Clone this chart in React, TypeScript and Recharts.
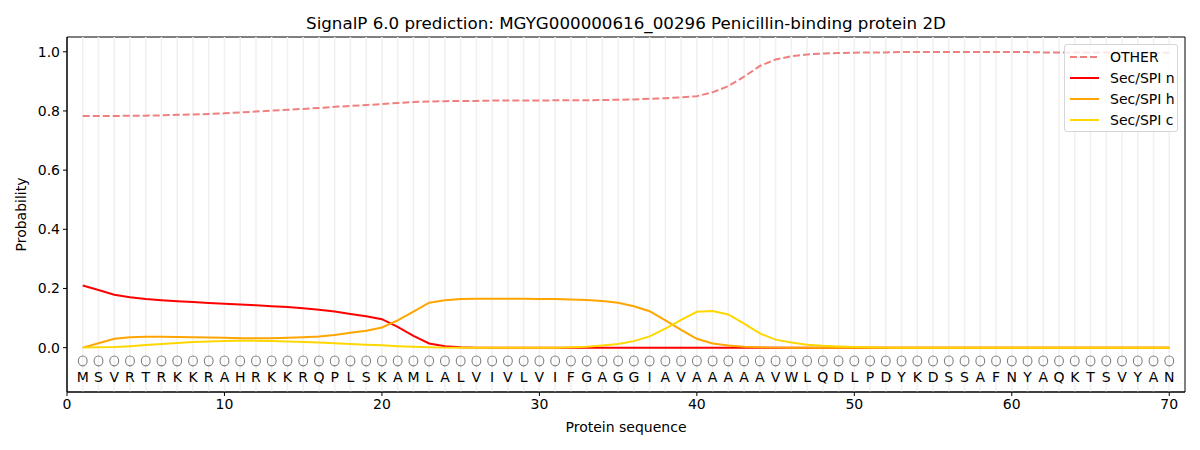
import React from "react";
import {
  ComposedChart,
  Line,
  Scatter,
  XAxis,
  YAxis,
  ReferenceLine,
  ReferenceArea,
} from "recharts";

const sequence = "MSVRTRKKRAHRKKRQPLSKAMLALVIVLVIFGAGGIAVAAAAAVWLQDLPDYKDSSAFNYAQKTSVYAN".split("");
const positions = sequence.map((_, i) => i + 1);

const otherProb = [
  0.783, 0.783, 0.783, 0.784, 0.784, 0.785, 0.787, 0.788, 0.79, 0.792,
  0.795, 0.798, 0.801, 0.804, 0.807, 0.81, 0.814, 0.817, 0.82, 0.823,
  0.827, 0.83, 0.832, 0.833, 0.834, 0.834, 0.835, 0.835, 0.835, 0.835,
  0.836, 0.836, 0.836, 0.837, 0.838, 0.839, 0.841, 0.843, 0.846, 0.85,
  0.863, 0.884, 0.916, 0.952, 0.974, 0.985, 0.991, 0.994, 0.996, 0.997,
  0.998, 0.998, 0.999, 0.999, 0.999, 0.999, 0.999, 0.999, 0.999, 0.999,
  0.999, 0.998, 0.998, 0.998, 0.998, 0.998, 0.997, 0.997, 0.997, 0.997,
];
const secN = [
  0.21, 0.195, 0.179, 0.17, 0.164, 0.16, 0.157, 0.154, 0.151, 0.148,
  0.146, 0.143, 0.14, 0.137, 0.133, 0.128, 0.122, 0.114, 0.106, 0.096,
  0.07, 0.04, 0.014, 0.005, 0.001, 0, 0, 0, 0, 0,
  0, 0, 0, 0, 0, 0, 0, 0, 0, 0,
  0, 0, 0, 0, 0, 0, 0, 0, 0, 0,
  0, 0, 0, 0, 0, 0, 0, 0, 0, 0,
  0, 0, 0, 0, 0, 0, 0, 0, 0, 0,
];
const secH = [
  0, 0.015, 0.03, 0.035, 0.037, 0.037, 0.036, 0.035, 0.034, 0.033,
  0.032, 0.032, 0.032, 0.033, 0.035, 0.038, 0.043, 0.05, 0.057, 0.068,
  0.092, 0.122, 0.152, 0.16, 0.164, 0.165, 0.165, 0.165, 0.165, 0.164,
  0.164, 0.163, 0.161, 0.158, 0.152, 0.14, 0.123, 0.092, 0.06, 0.03,
  0.014, 0.007, 0.003, 0.001, 0, 0, 0, 0, 0, 0,
  0, 0, 0, 0, 0, 0, 0, 0, 0, 0,
  0, 0, 0, 0, 0, 0, 0, 0, 0, 0,
];
const secC = [
  0, 0.001, 0.002, 0.005, 0.009, 0.012, 0.016, 0.019, 0.021, 0.022,
  0.023, 0.023, 0.022, 0.021, 0.019, 0.017, 0.015, 0.012, 0.01, 0.008,
  0.005, 0.003, 0.001, 0, 0, 0, 0, 0, 0, 0,
  0, 0.001, 0.003, 0.007, 0.012, 0.022, 0.038, 0.064, 0.094, 0.121,
  0.124, 0.112, 0.081, 0.048, 0.027, 0.017, 0.01, 0.006, 0.004, 0.002,
  0.001, 0, 0, 0, 0, 0, 0, 0, 0, 0,
  0, 0, 0, 0, 0, 0, 0, 0, 0, 0,
];

const xTicks = [0, 10, 20, 30, 40, 50, 60, 70];
const yTicks = [0, 0.2, 0.4, 0.6, 0.8, 1.0];
const circleLevel = -0.045;
const letterLevel = -0.1;

const series = [
  { key: "other", name: "OTHER", color: "#F08080", dash: "7 3" },
  { key: "n", name: "Sec/SPI n", color: "#FF0000", dash: undefined },
  { key: "h", name: "Sec/SPI h", color: "#FFA500", dash: undefined },
  { key: "c", name: "Sec/SPI c", color: "#FFD700", dash: undefined },
];

const data = positions.map((p, i) => ({
  x: p,
  aa: sequence[i],
  other: otherProb[i],
  n: secN[i],
  h: secH[i],
  c: secC[i],
  circleY: circleLevel,
  letterY: letterLevel,
}));

const FONT = "'DejaVu Sans', sans-serif";

const LetterShape = (props: any) => {
  const { cx, cy, payload } = props;
  return (
    <text
      x={cx}
      y={cy}
      textAnchor="middle"
      dominantBaseline="central"
      fontSize={14}
      fontFamily={FONT}
      fill="#000"
    >
      {payload.aa}
    </text>
  );
};

const CircleShape = (props: any) => {
  const { cx, cy } = props;
  return <ellipse cx={cx} cy={cy} rx={4.4} ry={4.9} fill="none" stroke="#808080" strokeWidth={1.1} />;
};

const LegendBox = () => (
  <div
    style={{
      position: "absolute",
      left: 1064,
      top: 44,
      width: 114,
      height: 88,
      border: "1px solid #d6d6d6",
      borderRadius: 3,
      background: "rgba(255,255,255,0.8)",
      fontFamily: FONT,
      fontSize: 14,
      boxSizing: "border-box",
      paddingTop: 1,
    }}
  >
    {series.map((s) => (
      <div key={s.key} style={{ height: 21, display: "flex", alignItems: "center" }}>
        <svg width={45} height={10} style={{ flex: "none" }}>
          <line
            x1={5}
            x2={34}
            y1={5}
            y2={5}
            stroke={s.color}
            strokeWidth={2}
            strokeDasharray={s.dash}
          />
        </svg>
        <span style={{ color: "#000", whiteSpace: "nowrap" }}>{s.name}</span>
      </div>
    ))}
  </div>
);

export default function App() {
  return (
    <div style={{ position: "absolute", left: 0, top: 0, width: 1200, height: 450, background: "#fff" }}>
      <div
        style={{
          position: "absolute",
          left: 67,
          top: 13,
          width: 1118,
          textAlign: "center",
          fontFamily: FONT,
          fontSize: 16.7,
          lineHeight: "20px",
          color: "#000",
        }}
      >
        SignalP 6.0 prediction: MGYG000000616_00296 Penicillin-binding protein 2D
      </div>
      <ComposedChart
        width={1200}
        height={450}
        data={data}
        margin={{ top: 37, right: 15, bottom: 0, left: 0 }}
      >
        {positions.map((p) => (
          <ReferenceLine key={"g" + p} x={p} stroke="#f0f0f0" strokeWidth={1.5} />
        ))}
        <XAxis
          dataKey="x"
          type="number"
          domain={[0, 71]}
          ticks={xTicks}
          allowDataOverflow
          height={58}
          tickSize={4}
          tickMargin={3}
          stroke="#000"
          tick={{ fill: "#000", fontSize: 14, fontFamily: FONT }}
          label={{
            value: "Protein sequence",
            position: "insideBottom",
            offset: 18,
            fill: "#000",
            fontSize: 14,
            fontFamily: FONT,
          }}
        />
        <YAxis
          type="number"
          domain={[-0.15, 1.05]}
          ticks={yTicks}
          allowDataOverflow
          width={67}
          tickSize={4}
          tickMargin={3}
          stroke="#000"
          tickFormatter={(v: number) => v.toFixed(1)}
          tick={{ fill: "#000", fontSize: 14, fontFamily: FONT }}
          label={{
            value: "Probability",
            angle: -90,
            position: "insideLeft",
            offset: 21,
            style: { textAnchor: "middle" },
            fill: "#000",
            fontSize: 14,
            fontFamily: FONT,
          }}
        />
        <ReferenceArea
          x1={0}
          x2={71}
          y1={-0.15}
          y2={1.05}
          fill="none"
          fillOpacity={0}
          stroke="#000"
          strokeWidth={1}
          ifOverflow="visible"
        />
        {series.map((s) => (
          <Line
            key={s.key}
            dataKey={s.key}
            name={s.name}
            type="linear"
            stroke={s.color}
            strokeWidth={2}
            strokeDasharray={s.dash}
            dot={false}
            activeDot={false}
            isAnimationActive={false}
          />
        ))}
        <Scatter dataKey="circleY" shape={<CircleShape />} isAnimationActive={false} legendType="none" />
        <Scatter dataKey="letterY" shape={<LetterShape />} isAnimationActive={false} legendType="none" />
      </ComposedChart>
      <LegendBox />
    </div>
  );
}
